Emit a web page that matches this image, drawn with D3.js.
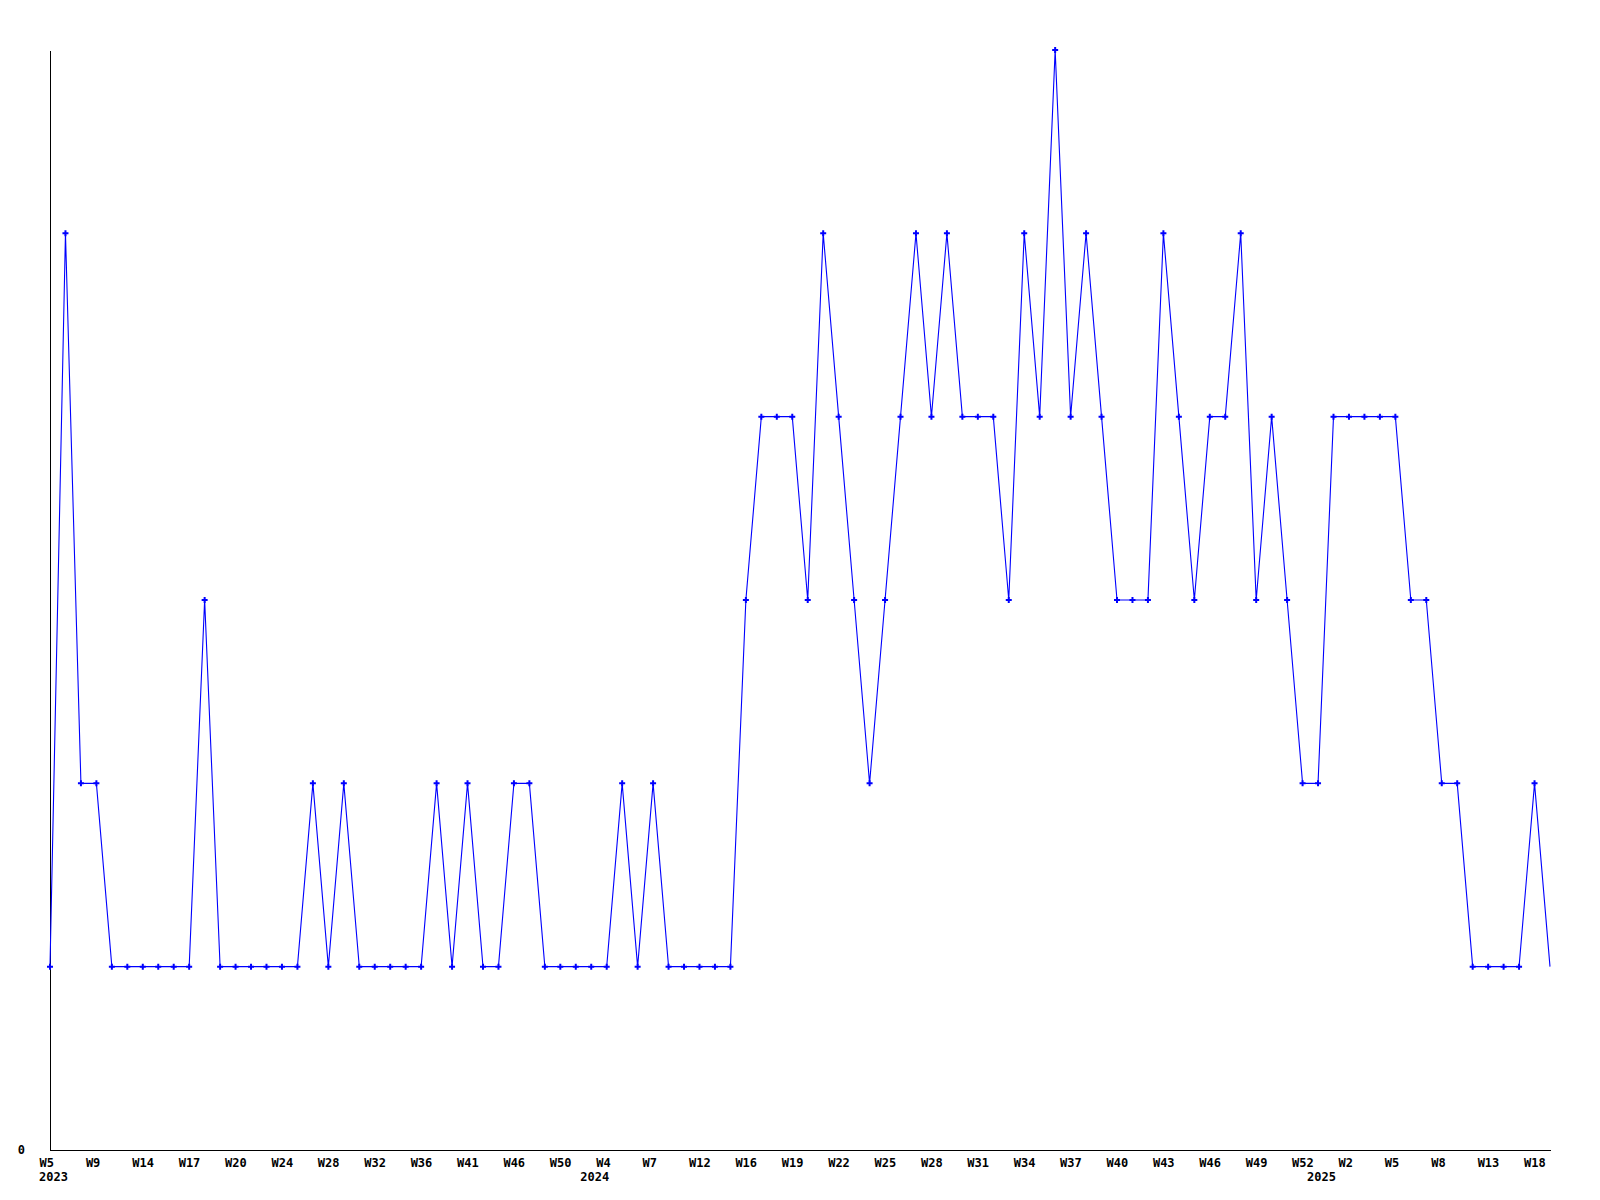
<!DOCTYPE html>
<html>
<head>
<meta charset="utf-8">
<script src="https://cdn.jsdelivr.net/npm/d3@7"></script>
<style>
  html, body { margin: 0; padding: 0; background: #ffffff; }
  svg { display: block; }
  text { font-family: "DejaVu Sans Mono", "Liberation Mono", monospace; font-weight: bold; font-size: 12px; fill: #000; }
</style>
</head>
<body>
<svg id="chart" width="1600" height="1200"></svg>
<script>
// ---- data ----
const values = [
  1,5,2,2,1,1,1,1,1,1,
  3,1,1,1,1,1,1,2,1,2,
  1,1,1,1,1,2,1,2,1,1,
  2,2,1,1,1,1,1,2,1,2,
  1,1,1,1,1,3,4,4,4,3,
  5,4,3,2,3,4,5,4,5,4,
  4,4,3,5,4,6,4,5,4,3,
  3,3,5,4,3,4,4,5,3,4,
  3,2,2,4,4,4,4,4,3,3,
  2,2,1,1,1,1,2,1
];
const weekLabels = [
  "W5","W9","W14","W17","W20","W24","W28","W32","W36","W41","W46","W50",
  "W4","W7","W12","W16","W19","W22","W25","W28","W31","W34","W37","W40","W43","W46","W49","W52",
  "W2","W5","W8","W13","W18"
];
const labelEvery = 3;
const yearLabels = ["2023","2024","2025"];
const yearStartIndex = [0, 35, 82];
const yTicks = [0];

// ---- layout ----
const svg = d3.select("#chart");
const mLeft = 50, mRight = 1550, mTop = 50, mBottom = 1150;
const labelShift = -11;

const x = d3.scaleLinear().domain([0, values.length - 1]).range([mLeft, mRight]);
const y = d3.scaleLinear().domain([0, 6]).range([mBottom, mTop]);

// axes
const xTickVals = weekLabels.map((_, i) => i * labelEvery);
const xAxis = d3.axisBottom(x)
  .tickValues(xTickVals)
  .tickFormat((d, i) => weekLabels[i])
  .tickSize(0)
  .tickPadding(8);
const gx = svg.append("g").attr("transform", `translate(0,${mBottom})`).call(xAxis);
gx.select(".domain").attr("stroke", "#000").attr("stroke-width", 1).attr("shape-rendering", "crispEdges");
gx.attr("font-size", null).attr("font-family", null).attr("text-anchor", null);
gx.selectAll(".tick text").attr("text-anchor", "start").attr("dx", labelShift);

const yAxis = d3.axisLeft(y).tickValues(yTicks).tickFormat(d3.format("d")).tickSize(0).tickPadding(25);
const gy = svg.append("g").attr("transform", `translate(${mLeft},0)`).call(yAxis);
gy.select(".domain").attr("stroke", "#000").attr("stroke-width", 1).attr("shape-rendering", "crispEdges");
gy.attr("font-size", null).attr("font-family", null);

// year labels
svg.append("g").selectAll("text.year")
  .data(yearLabels)
  .join("text")
  .attr("class", "year")
  .attr("x", (d, i) => x(yearStartIndex[i]) + labelShift)
  .attr("y", mBottom + 31)
  .attr("text-anchor", "start")
  .text(d => d);

// line
const line = d3.line().x((d, i) => x(i)).y(d => y(d));
svg.append("path")
  .datum(values)
  .attr("fill", "none")
  .attr("stroke", "#0000ff")
  .attr("stroke-width", 1.1)
  .attr("d", line);

// markers (all but last point)
const cross = d3.symbol().type(d3.symbolCross).size(20);
svg.append("g").selectAll("path.pt")
  .data(values.slice(0, values.length - 1))
  .join("path")
  .attr("class", "pt")
  .attr("transform", (d, i) => `translate(${x(i)},${y(d)})`)
  .attr("fill", "#0000ff")
  .attr("d", cross);
</script>
</body>
</html>
